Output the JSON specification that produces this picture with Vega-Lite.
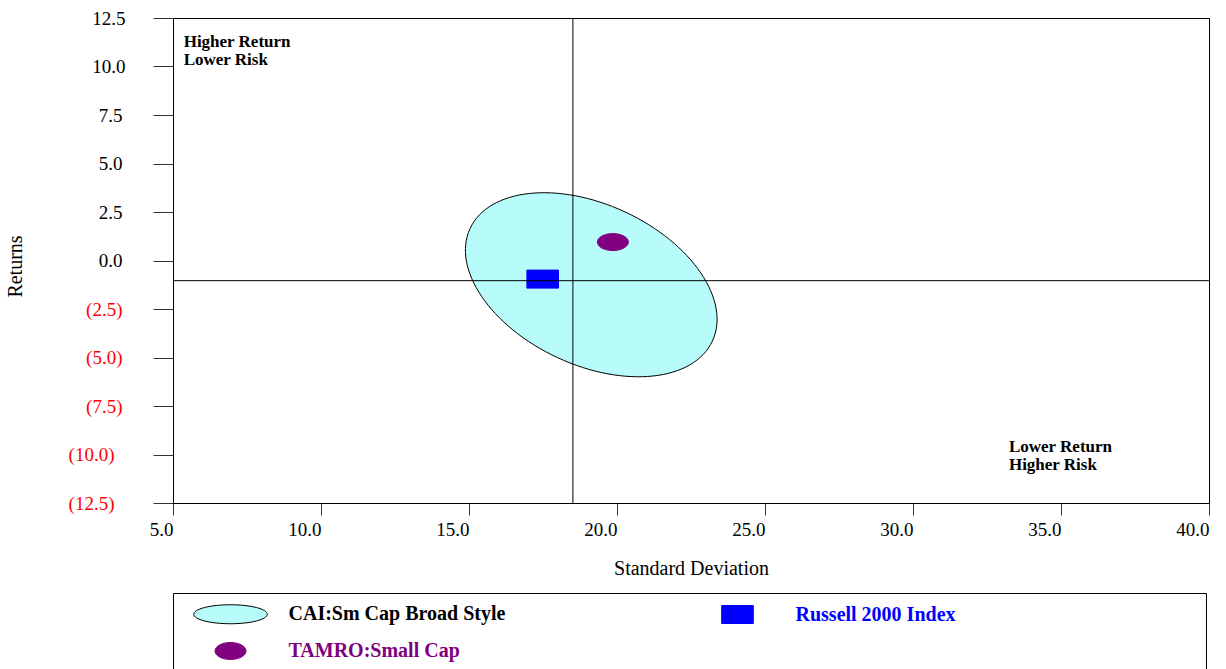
{
  "$schema": "https://vega.github.io/schema/vega-lite/v6.json",
  "width": 1036,
  "height": 485,
  "autosize": {"type": "none"},
  "padding": {"left": 173, "top": 18, "right": 17, "bottom": 166},
  "background": "white",
  "config": {
    "font": "Liberation Serif",
    "view": {"stroke": "black", "strokeWidth": 1},
    "axis": {
      "grid": false,
      "domainColor": "black",
      "tickColor": "#333333",
      "labelColor": "black",
      "titleColor": "black",
      "labelFont": "Liberation Serif",
      "titleFont": "Liberation Serif",
      "labelFontSize": 19,
      "titleFontSize": 20,
      "titleFontWeight": "normal",
      "labelFlush": false,
      "labelOverlap": false
    }
  },
  "datasets": {
    "points": [
      {"series": "CAI:Sm Cap Broad Style", "sd": 19.13, "ret": -1.25},
      {"series": "Russell 2000 Index", "sd": 17.49, "ret": -0.96},
      {"series": "TAMRO:Small Cap", "sd": 19.86, "ret": 0.95}
    ],
    "refs": [{"sd": 18.51, "ret": -1.04}],
    "notes": [
      {"sd": 5.36, "ret": 11.68, "note": "Higher Return\nLower Risk"},
      {"sd": 33.24, "ret": -9.19, "note": "Lower Return\nHigher Risk"}
    ]
  },
  "layer": [
    {
      "data": {"name": "points"},
      "transform": [{"filter": "datum.series === 'CAI:Sm Cap Broad Style'"}],
      "mark": {
        "type": "point", "filled": true, "size": 4, "opacity": 1, "strokeWidth": 1,
        "fill": "#b7fbfb", "stroke": "black",
        "shape": "M121.19,56.23A133.6,80.3,24.89,0,1,-33.8,72.84A133.6,80.3,24.89,0,1,-121.19,-56.23A133.6,80.3,24.89,0,1,33.8,-72.84A133.6,80.3,24.89,0,1,121.19,56.23Z"
      },
      "encoding": {
        "x": {
          "field": "sd", "type": "quantitative", "title": "Standard Deviation",
          "scale": {"domain": [5, 40], "nice": false, "zero": false},
          "axis": {
            "values": [5, 10, 15, 20, 25, 30, 35, 40],
            "format": ".1f",
            "tickSize": 12,
            "labelPadding": 5,
            "labelAlign": "right",
            "labelDx": 8,
            "titlePadding": 19
          }
        },
        "y": {
          "field": "ret", "type": "quantitative", "title": "Returns",
          "scale": {"domain": [-12.5, 12.5], "nice": false, "zero": false},
          "axis": {
            "values": [-12.5, -10, -7.5, -5, -2.5, 0, 2.5, 5, 7.5, 10, 12.5],
            "tickSize": 20,
            "labelPadding": {"condition": [{"test": "datum.value >= 10", "value": 28}, {"test": "datum.value <= -10", "value": 39}], "value": 31},
            "labelExpr": "datum.value < 0 ? '(' + format(-datum.value, '.1f') + ')' : format(datum.value, '.1f')",
            "labelColor": {"condition": {"test": "datum.value < 0", "value": "#ff0000"}, "value": "black"},
            "titlePadding": 43,
            "titleY": 248
          }
        }
      }
    },
    {
      "data": {"name": "points"},
      "transform": [{"filter": "datum.series !== 'CAI:Sm Cap Broad Style'"}],
      "mark": {"type": "point", "filled": true, "size": 4, "opacity": 1, "strokeWidth": 1},
      "encoding": {
        "x": {"field": "sd", "type": "quantitative", "title": "Standard Deviation"},
        "y": {"field": "ret", "type": "quantitative", "title": "Returns"},
        "shape": {
          "field": "series", "type": "nominal",
          "scale": {
            "domain": ["CAI:Sm Cap Broad Style", "Russell 2000 Index", "TAMRO:Small Cap"],
            "range": [
              "M-36.8,0A36.8,9.5,0,0,1,0,-9.5A36.8,9.5,0,0,1,36.8,0A36.8,9.5,0,0,1,0,9.5A36.8,9.5,0,0,1,-36.8,0Z",
              "M-15.8,-9L15.8,-9L15.8,9L-15.8,9ZM455,0",
              "M-15.5,0A15.5,8.5,0,0,1,0,-8.5A15.5,8.5,0,0,1,15.5,0A15.5,8.5,0,0,1,0,8.5A15.5,8.5,0,0,1,-15.5,0Z"
            ]
          }
        },
        "fill": {
          "field": "series", "type": "nominal",
          "scale": {
            "domain": ["CAI:Sm Cap Broad Style", "Russell 2000 Index", "TAMRO:Small Cap"],
            "range": ["#b7fbfb", "#0000ff", "#800080"]
          },
          "legend": {
            "title": null,
            "orient": "none",
            "legendX": 0,
            "legendY": 575,
            "direction": "horizontal",
            "columns": 2,
            "padding": 11,
            "strokeColor": "black",
            "fillColor": "white",
            "symbolSize": 4,
            "symbolStrokeWidth": 1,
            "symbolOffset": 36.5,
            "labelOffset": 48,
            "labelFont": "Liberation Serif",
            "labelFontSize": 20,
            "labelFontWeight": "bold",
            "labelLimit": 2000,
            "labelColor": {"expr": "datum.value === 'Russell 2000 Index' ? '#0000ff' : (datum.value === 'TAMRO:Small Cap' ? '#800080' : 'black')"},
            "columnPadding": 185,
            "rowPadding": 14
          }
        },
        "stroke": {
          "field": "series", "type": "nominal",
          "scale": {
            "domain": ["CAI:Sm Cap Broad Style", "Russell 2000 Index", "TAMRO:Small Cap"],
            "range": ["black", "#0000ff", "#800080"]
          }
        }
      }
    },
    {
      "data": {"name": "refs"},
      "mark": {"type": "rule", "color": "black", "strokeWidth": 1},
      "encoding": {
        "x": {"field": "sd", "type": "quantitative", "title": "Standard Deviation"}
      }
    },
    {
      "data": {"name": "refs"},
      "mark": {"type": "rule", "color": "black", "strokeWidth": 1},
      "encoding": {
        "y": {"field": "ret", "type": "quantitative", "title": "Returns"}
      }
    },
    {
      "data": {"name": "notes"},
      "mark": {"type": "text", "align": "left", "baseline": "top", "font": "Liberation Serif", "fontSize": 17, "fontWeight": "bold", "lineHeight": 18, "lineBreak": "\n", "color": "black"},
      "encoding": {
        "x": {"field": "sd", "type": "quantitative", "title": "Standard Deviation"},
        "y": {"field": "ret", "type": "quantitative", "title": "Returns"},
        "text": {"field": "note", "type": "nominal"}
      }
    }
  ]
}
